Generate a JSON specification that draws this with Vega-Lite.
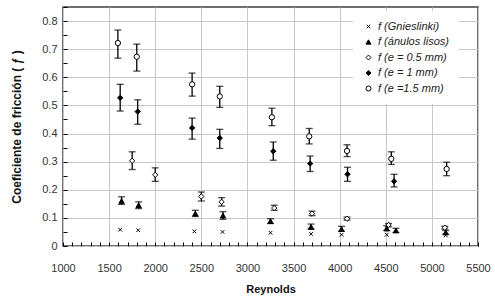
{
  "$schema": "https://vega.github.io/schema/vega-lite/v6.json",
  "width": 415,
  "height": 239,
  "autosize": "none",
  "padding": {"left": 63, "top": 7, "right": 17, "bottom": 54},
  "background": "white",
  "config": {
    "font": "Liberation Sans",
    "view": {"stroke": "#404040", "strokeWidth": 1.5},
    "legend": {
      "orient": "none",
      "legendX": 290,
      "legendY": 4,
      "fillColor": "white",
      "padding": 10,
      "labelFontSize": 11,
      "labelFontStyle": "italic",
      "labelColor": "#222",
      "symbolSize": 25,
      "symbolStrokeColor": "black",
      "symbolStrokeWidth": 1,
      "rowPadding": 3.5,
      "labelOffset": 4
    }
  },
  "data": {"values": [
    {"s": "f (Gnieslinki)", "re": 1620, "f": 0.058},
    {"s": "f (Gnieslinki)", "re": 1815, "f": 0.056},
    {"s": "f (Gnieslinki)", "re": 2425, "f": 0.052},
    {"s": "f (Gnieslinki)", "re": 2730, "f": 0.05},
    {"s": "f (Gnieslinki)", "re": 3250, "f": 0.047},
    {"s": "f (Gnieslinki)", "re": 3690, "f": 0.043},
    {"s": "f (Gnieslinki)", "re": 4020, "f": 0.04},
    {"s": "f (Gnieslinki)", "re": 4510, "f": 0.04},
    {"s": "f (Gnieslinki)", "re": 5150, "f": 0.038},
    {"s": "f (ánulos lisos)", "re": 1635, "f": 0.16, "lo": 0.148, "hi": 0.175},
    {"s": "f (ánulos lisos)", "re": 1820, "f": 0.145, "lo": 0.133, "hi": 0.157},
    {"s": "f (ánulos lisos)", "re": 2435, "f": 0.115, "lo": 0.105, "hi": 0.127},
    {"s": "f (ánulos lisos)", "re": 2735, "f": 0.108, "lo": 0.095, "hi": 0.122},
    {"s": "f (ánulos lisos)", "re": 3250, "f": 0.088, "lo": 0.08, "hi": 0.097},
    {"s": "f (ánulos lisos)", "re": 3690, "f": 0.068, "lo": 0.06, "hi": 0.078},
    {"s": "f (ánulos lisos)", "re": 4020, "f": 0.06, "lo": 0.052, "hi": 0.07},
    {"s": "f (ánulos lisos)", "re": 4510, "f": 0.062, "lo": 0.055, "hi": 0.072},
    {"s": "f (ánulos lisos)", "re": 4610, "f": 0.055, "lo": 0.048, "hi": 0.063},
    {"s": "f (ánulos lisos)", "re": 5150, "f": 0.048, "lo": 0.042, "hi": 0.055},
    {"s": "f (e = 0.5 mm)", "re": 1750, "f": 0.303, "lo": 0.272, "hi": 0.335},
    {"s": "f (e = 0.5 mm)", "re": 2000, "f": 0.253, "lo": 0.23, "hi": 0.278},
    {"s": "f (e = 0.5 mm)", "re": 2500, "f": 0.176, "lo": 0.16, "hi": 0.192},
    {"s": "f (e = 0.5 mm)", "re": 2720, "f": 0.157, "lo": 0.142, "hi": 0.172},
    {"s": "f (e = 0.5 mm)", "re": 3290, "f": 0.135, "lo": 0.127, "hi": 0.145},
    {"s": "f (e = 0.5 mm)", "re": 3700, "f": 0.115, "lo": 0.108, "hi": 0.124},
    {"s": "f (e = 0.5 mm)", "re": 4080, "f": 0.097, "lo": 0.092, "hi": 0.103},
    {"s": "f (e = 0.5 mm)", "re": 4530, "f": 0.075, "lo": 0.068, "hi": 0.08},
    {"s": "f (e = 0.5 mm)", "re": 5140, "f": 0.065, "lo": 0.06, "hi": 0.07},
    {"s": "f (e = 1 mm)", "re": 1620, "f": 0.527, "lo": 0.48, "hi": 0.575},
    {"s": "f (e = 1 mm)", "re": 1810, "f": 0.478, "lo": 0.433, "hi": 0.52},
    {"s": "f (e = 1 mm)", "re": 2400, "f": 0.42, "lo": 0.38, "hi": 0.455},
    {"s": "f (e = 1 mm)", "re": 2700, "f": 0.384, "lo": 0.347, "hi": 0.415},
    {"s": "f (e = 1 mm)", "re": 3280, "f": 0.337, "lo": 0.305, "hi": 0.37},
    {"s": "f (e = 1 mm)", "re": 3680, "f": 0.293, "lo": 0.265, "hi": 0.32},
    {"s": "f (e = 1 mm)", "re": 4085, "f": 0.255, "lo": 0.23, "hi": 0.28},
    {"s": "f (e = 1 mm)", "re": 4590, "f": 0.23, "lo": 0.21, "hi": 0.255},
    {"s": "f (e =1.5 mm)", "re": 1595, "f": 0.722, "lo": 0.668, "hi": 0.768},
    {"s": "f (e =1.5 mm)", "re": 1800, "f": 0.673, "lo": 0.622, "hi": 0.718},
    {"s": "f (e =1.5 mm)", "re": 2400, "f": 0.575, "lo": 0.533, "hi": 0.615},
    {"s": "f (e =1.5 mm)", "re": 2700, "f": 0.532, "lo": 0.493, "hi": 0.568},
    {"s": "f (e =1.5 mm)", "re": 3265, "f": 0.458, "lo": 0.428, "hi": 0.49},
    {"s": "f (e =1.5 mm)", "re": 3670, "f": 0.39, "lo": 0.363, "hi": 0.418},
    {"s": "f (e =1.5 mm)", "re": 4080, "f": 0.338, "lo": 0.318, "hi": 0.36},
    {"s": "f (e =1.5 mm)", "re": 4560, "f": 0.31, "lo": 0.29, "hi": 0.335},
    {"s": "f (e =1.5 mm)", "re": 5160, "f": 0.274, "lo": 0.25, "hi": 0.298}
  ]},
  "encoding": {
    "x": {
      "field": "re", "type": "quantitative",
      "scale": {"domain": [1000, 5500], "nice": false},
      "title": "Reynolds",
      "axis": {
        "values": [1000,1100,1200,1300,1400,1500,1600,1700,1800,1900,2000,2100,2200,2300,2400,2500,2600,2700,2800,2900,3000,3100,3200,3300,3400,3500,3600,3700,3800,3900,4000,4100,4200,4300,4400,4500,4600,4700,4800,4900,5000,5100,5200,5300,5400,5500],
        "labelExpr": "datum.value % 500 == 0 ? format(datum.value, 'd') : ''",
        "tickSize": -4,
        "tickColor": "#000",
        "labelPadding": 20,
        "labelFontSize": 11,
        "labelColor": "#333",
        "labelFlush": false,
        "labelOverlap": false,
        "domain": false,
        "gridColor": "#c8c8c8",
        "gridOpacity": {"condition": {"test": "datum.value % 500 == 0", "value": 1}, "value": 0},
        "titleFontWeight": "bold",
        "titleFontSize": 11,
        "titleColor": "#111",
        "titlePadding": 10
      }
    },
    "y": {
      "type": "quantitative",
      "scale": {"domain": [0, 0.85], "nice": false},
      "title": "Coeficiente de fricción ( ƒ )",
      "axis": {
        "values": [0,0.05,0.1,0.15,0.2,0.25,0.3,0.35,0.4,0.45,0.5,0.55,0.6,0.65,0.7,0.75,0.8,0.85],
        "labelExpr": "round(datum.value*100) % 10 == 0 ? (datum.value == 0 ? '0' : format(datum.value, '.1f')) : ''",
        "tickSize": -4,
        "tickColor": "#000",
        "labelPadding": 10,
        "labelFontSize": 11,
        "labelColor": "#333",
        "labelFlush": false,
        "labelOverlap": false,
        "domain": false,
        "gridColor": "#c8c8c8",
        "gridOpacity": {"condition": {"test": "round(datum.value*100) % 10 == 0 && datum.value < 0.84", "value": 1}, "value": 0},
        "titleFontWeight": "bold",
        "titleFontSize": 12,
        "titleColor": "#111",
        "titlePadding": 18
      }
    }
  },
  "layer": [
    {
      "transform": [{"filter": "isValid(datum.lo)"}],
      "mark": {"type": "errorbar", "ticks": {"size": 7}, "color": "black", "thickness": 1.3},
      "encoding": {
        "y": {"field": "lo", "type": "quantitative"},
        "y2": {"field": "hi"}
      }
    },
    {
      "mark": {"type": "point", "filled": true, "strokeWidth": 1, "opacity": 1},
      "encoding": {
        "y": {"field": "f", "type": "quantitative"},
        "shape": {
          "field": "s", "type": "nominal",
          "scale": {
            "domain": ["f (Gnieslinki)", "f (ánulos lisos)", "f (e = 0.5 mm)", "f (e = 1 mm)", "f (e =1.5 mm)"],
            "range": ["M-0.7,-0.7L0.7,0.7M-0.7,0.7L0.7,-0.7", "triangle-up", "diamond", "diamond", "circle"]
          },
          "legend": {"title": null}
        },
        "fill": {
          "field": "s", "type": "nominal",
          "scale": {
            "domain": ["f (Gnieslinki)", "f (ánulos lisos)", "f (e = 0.5 mm)", "f (e = 1 mm)", "f (e =1.5 mm)"],
            "range": ["transparent", "black", "white", "black", "white"]
          },
          "legend": {"title": null}
        },
        "stroke": {
          "field": "s", "type": "nominal",
          "scale": {
            "domain": ["f (Gnieslinki)", "f (ánulos lisos)", "f (e = 0.5 mm)", "f (e = 1 mm)", "f (e =1.5 mm)"],
            "range": ["black", "black", "black", "black", "black"]
          },
          "legend": {"title": null}
        },
        "size": {"value": 28}
      }
    }
  ]
}
